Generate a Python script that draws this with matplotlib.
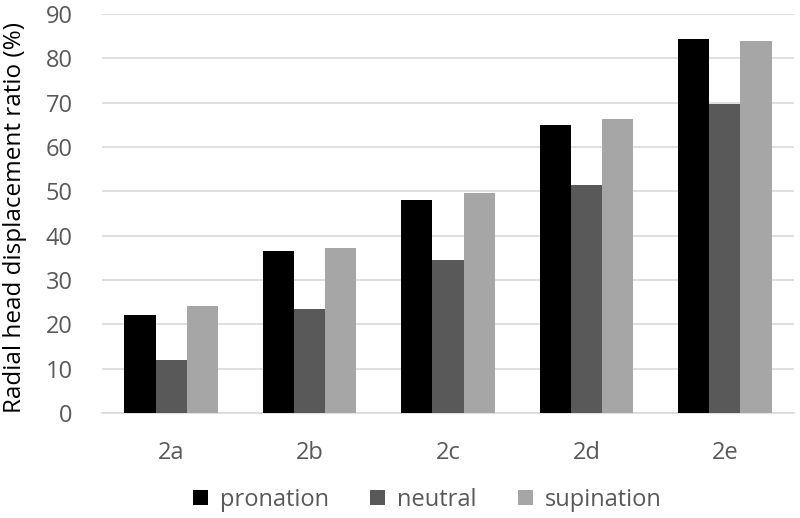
import numpy as np
import matplotlib.pyplot as plt

plt.rcParams['font.family'] = ['Open Sans', 'DejaVu Sans']

categories = ['2a', '2b', '2c', '2d', '2e']
pronation = [22.1, 36.5, 48.1, 65.0, 84.4]
neutral = [12.0, 23.5, 34.6, 51.5, 69.7]
supination = [24.0, 37.1, 49.7, 66.3, 83.9]

SERIES = [('pronation', pronation, '#000000'),
          ('neutral', neutral, '#595959'),
          ('supination', supination, '#a6a6a6')]

fig = plt.figure(figsize=(8, 5.18), dpi=100)
ax = fig.add_axes([0.1275, 0.203, 0.865, 0.77])

x = np.arange(len(categories))
w = 0.225
for i, (lab, vals, col) in enumerate(SERIES):
    ax.bar(x + (i - 1) * w, vals, w, color=col, label=lab, zorder=3)

ax.set_xlim(-0.5, len(categories) - 0.5)
ax.set_ylim(0, 90)
ax.set_yticks(range(0, 91, 10))
ax.set_xticks(x)
ax.set_xticklabels(categories)
ax.grid(axis='y', color='#d9d9d9', linewidth=1.2, zorder=0)
for s in ['top', 'right', 'left']:
    ax.spines[s].set_visible(False)
ax.spines['bottom'].set_color('#d9d9d9')
ax.spines['bottom'].set_linewidth(1.2)
ax.tick_params(length=0, labelsize=17, colors='#595959')
ax.tick_params(axis='y', pad=21)
ax.tick_params(axis='x', pad=20)
ax.set_ylabel('Radial head displacement ratio (%)', fontsize=17.5, color='#000000')
ax.yaxis.set_label_coords(-0.108, 0.49)

ax.legend(loc='center', bbox_to_anchor=(0.47, -0.218), ncol=3, frameon=False,
          fontsize=17, labelcolor='#595959', handlelength=0.64, handleheight=0.64,
          handletextpad=0.5, columnspacing=1.75, borderpad=0)

plt.savefig('out.png', dpi=100)
